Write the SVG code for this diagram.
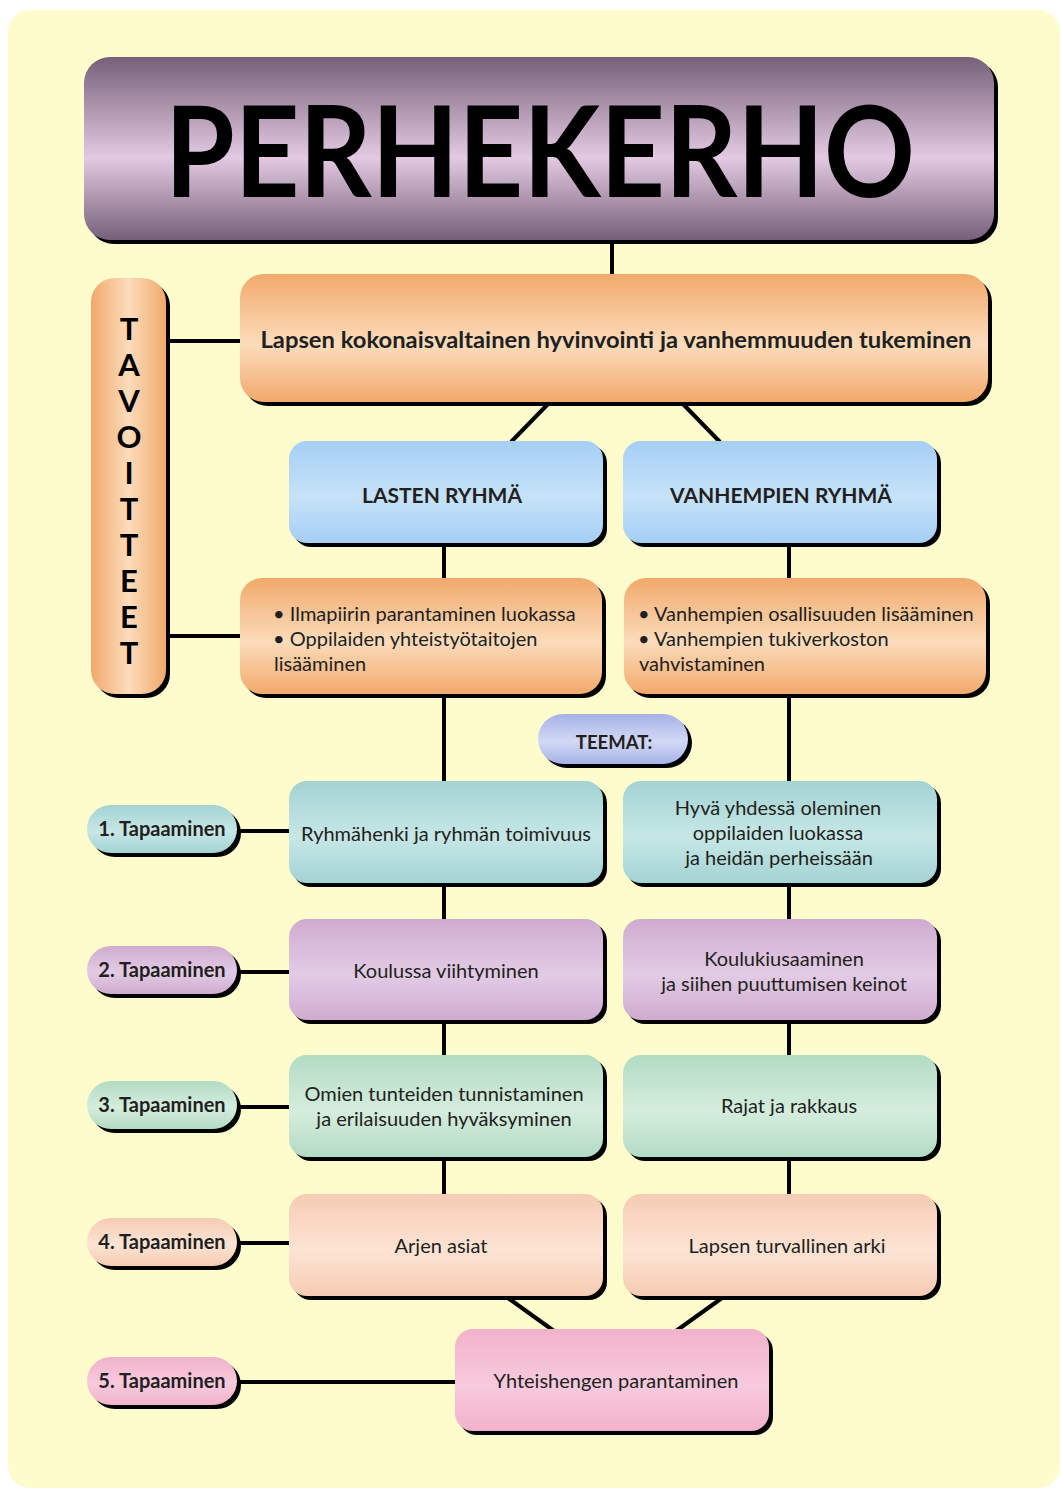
<svg xmlns="http://www.w3.org/2000/svg" width="1061" height="1490" viewBox="0 0 1061 1490">
<defs>
<linearGradient id="gPurple" x1="0" y1="0" x2="0" y2="1">
<stop offset="0" stop-color="#765f78"/><stop offset="0.55" stop-color="#e2cbe2"/><stop offset="1" stop-color="#765f78"/>
</linearGradient>
<linearGradient id="gOrange" x1="0" y1="0" x2="0" y2="1">
<stop offset="0" stop-color="#f1a96b"/><stop offset="0.55" stop-color="#fcdcbb"/><stop offset="1" stop-color="#f1a96b"/>
</linearGradient>
<linearGradient id="gOrangeH" x1="0" y1="0" x2="1" y2="0">
<stop offset="0" stop-color="#f1a96b"/><stop offset="0.5" stop-color="#fcdcbb"/><stop offset="1" stop-color="#f1a96b"/>
</linearGradient>
<linearGradient id="gBlue" x1="0" y1="0" x2="0" y2="1">
<stop offset="0" stop-color="#a5cff5"/><stop offset="0.55" stop-color="#c6e2f9"/><stop offset="1" stop-color="#a5cff5"/>
</linearGradient>
<linearGradient id="gLav" x1="0" y1="0" x2="0" y2="1">
<stop offset="0" stop-color="#a6b2e6"/><stop offset="0.55" stop-color="#d2d9f5"/><stop offset="1" stop-color="#a6b2e6"/>
</linearGradient>
<linearGradient id="gTeal" x1="0" y1="0" x2="0" y2="1">
<stop offset="0" stop-color="#a3d3d3"/><stop offset="0.55" stop-color="#c6e7e6"/><stop offset="1" stop-color="#a3d3d3"/>
</linearGradient>
<linearGradient id="gMauve" x1="0" y1="0" x2="0" y2="1">
<stop offset="0" stop-color="#cfaccf"/><stop offset="0.55" stop-color="#e2cbe5"/><stop offset="1" stop-color="#cfaccf"/>
</linearGradient>
<linearGradient id="gGreen" x1="0" y1="0" x2="0" y2="1">
<stop offset="0" stop-color="#b2dbc2"/><stop offset="0.55" stop-color="#d5edde"/><stop offset="1" stop-color="#b2dbc2"/>
</linearGradient>
<linearGradient id="gPeach" x1="0" y1="0" x2="0" y2="1">
<stop offset="0" stop-color="#f6cbb3"/><stop offset="0.55" stop-color="#fde4d4"/><stop offset="1" stop-color="#f6cbb3"/>
</linearGradient>
<linearGradient id="gPink" x1="0" y1="0" x2="0" y2="1">
<stop offset="0" stop-color="#f1b2ca"/><stop offset="0.55" stop-color="#f8cade"/><stop offset="1" stop-color="#f1b2ca"/>
</linearGradient>
</defs>
<style>
.sh{fill:#000;}
.t{font-family:Lato,"Open Sans","Liberation Sans",sans-serif;fill:#231f20;}
.b{font-weight:bold;}
.c{text-anchor:middle;}
.n{font-size:20px;}
.lbl{font-size:20px;font-weight:bold;}
.con line{stroke:#000;stroke-width:4;}
</style>
<rect x="8" y="10" width="1052" height="1478" rx="22" fill="#fefbcc"/>

<g class="con">
<line x1="612" y1="240" x2="612" y2="276"/>
<line x1="168" y1="341" x2="242" y2="341"/>
<line x1="168" y1="636" x2="242" y2="636"/>
<line x1="548" y1="404" x2="511" y2="442"/>
<line x1="683" y1="404" x2="720" y2="442"/>
<line x1="444" y1="545" x2="444" y2="580"/>
<line x1="789" y1="545" x2="789" y2="580"/>
<line x1="444" y1="696" x2="444" y2="783"/>
<line x1="789" y1="696" x2="789" y2="783"/>
<line x1="444" y1="885" x2="444" y2="921"/>
<line x1="789" y1="885" x2="789" y2="921"/>
<line x1="444" y1="1022" x2="444" y2="1057"/>
<line x1="789" y1="1022" x2="789" y2="1057"/>
<line x1="444" y1="1159" x2="444" y2="1196"/>
<line x1="789" y1="1159" x2="789" y2="1196"/>
<line x1="508" y1="1298" x2="554" y2="1331"/>
<line x1="722" y1="1298" x2="676" y2="1331"/>
<line x1="238" y1="831" x2="291" y2="831"/>
<line x1="238" y1="972" x2="291" y2="972"/>
<line x1="238" y1="1107" x2="291" y2="1107"/>
<line x1="238" y1="1243" x2="291" y2="1243"/>
<line x1="238" y1="1382" x2="457" y2="1382"/>
</g>

<g id="title">
<rect class="sh" x="88" y="61" width="910" height="183" rx="26"/>
<rect x="84" y="57" width="910" height="183" rx="26" fill="url(#gPurple)"/>
<text class="t b c" x="540" y="197" font-size="126" textLength="750" lengthAdjust="spacingAndGlyphs" style="fill:#000">PERHEKERHO</text>
</g>

<g id="tavoitteet">
<rect class="sh" x="95" y="282" width="75" height="416" rx="24"/>
<rect x="91" y="278" width="75" height="416" rx="24" fill="url(#gOrangeH)"/>
<g class="t b c" font-size="31" style="fill:#000">
<text x="129" y="340">T</text>
<text x="129" y="376">A</text>
<text x="129" y="412">V</text>
<text x="129" y="448">O</text>
<text x="129" y="484">I</text>
<text x="129" y="520">T</text>
<text x="129" y="556">T</text>
<text x="129" y="592">E</text>
<text x="129" y="628">E</text>
<text x="129" y="664">T</text>
</g>
</g>

<g id="goal">
<rect class="sh" x="244" y="278" width="748" height="128" rx="24"/>
<rect x="240" y="274" width="748" height="128" rx="24" fill="url(#gOrange)"/>
<text class="t b c" x="616" y="348" font-size="22" textLength="711" lengthAdjust="spacingAndGlyphs">Lapsen kokonaisvaltainen hyvinvointi ja vanhemmuuden tukeminen</text>
</g>

<g id="lasten">
<rect class="sh" x="293" y="445" width="314" height="102" rx="18"/>
<rect x="289" y="441" width="314" height="102" rx="18" fill="url(#gBlue)"/>
<text class="t b c" x="442" y="503" font-size="21">LASTEN RYHMÄ</text>
</g>

<g id="vanhempien">
<rect class="sh" x="627" y="445" width="314" height="102" rx="18"/>
<rect x="623" y="441" width="314" height="102" rx="18" fill="url(#gBlue)"/>
<text class="t b c" x="781" y="503" font-size="21">VANHEMPIEN RYHMÄ</text>
</g>

<g id="goal-lapset">
<rect class="sh" x="244" y="582" width="362" height="116" rx="22"/>
<rect x="240" y="578" width="362" height="116" rx="22" fill="url(#gOrange)"/>
<text class="t n" x="273" y="621">• Ilmapiirin parantaminen luokassa</text>
<text class="t n" x="273" y="646">• Oppilaiden yhteistyötaitojen</text>
<text class="t n" x="274" y="671">lisääminen</text>
</g>

<g id="goal-vanhemmat">
<rect class="sh" x="628" y="582" width="362" height="116" rx="22"/>
<rect x="624" y="578" width="362" height="116" rx="22" fill="url(#gOrange)"/>
<text class="t n" x="638" y="621">• Vanhempien osallisuuden lisääminen</text>
<text class="t n" x="638" y="646">• Vanhempien tukiverkoston</text>
<text class="t n" x="639" y="671">vahvistaminen</text>
</g>

<g id="teemat">
<rect class="sh" x="542" y="718" width="150" height="50" rx="25"/>
<rect x="538" y="714" width="150" height="50" rx="25" fill="url(#gLav)"/>
<text class="t b c" x="614" y="749" font-size="18.5">TEEMAT:</text>
</g>

<g id="t1">
<rect class="sh" x="91" y="809" width="150" height="48" rx="24"/>
<rect x="87" y="805" width="150" height="48" rx="24" fill="url(#gTeal)"/>
<text class="t lbl c" x="162" y="836">1. Tapaaminen</text>
</g>
<g id="r1l">
<rect class="sh" x="293" y="785" width="314" height="102" rx="18"/>
<rect x="289" y="781" width="314" height="102" rx="18" fill="url(#gTeal)"/>
<text class="t n c" x="446" y="841">Ryhmähenki ja ryhmän toimivuus</text>
</g>
<g id="r1r">
<rect class="sh" x="627" y="785" width="314" height="102" rx="18"/>
<rect x="623" y="781" width="314" height="102" rx="18" fill="url(#gTeal)"/>
<text class="t n c" x="778" y="815">Hyvä yhdessä oleminen</text>
<text class="t n c" x="778" y="840">oppilaiden luokassa</text>
<text class="t n c" x="779" y="865">ja heidän perheissään</text>
</g>

<g id="t2">
<rect class="sh" x="91" y="950" width="150" height="48" rx="24"/>
<rect x="87" y="946" width="150" height="48" rx="24" fill="url(#gMauve)"/>
<text class="t lbl c" x="162" y="977">2. Tapaaminen</text>
</g>
<g id="r2l">
<rect class="sh" x="293" y="923" width="314" height="101" rx="18"/>
<rect x="289" y="919" width="314" height="101" rx="18" fill="url(#gMauve)"/>
<text class="t n c" x="446" y="978">Koulussa viihtyminen</text>
</g>
<g id="r2r">
<rect class="sh" x="627" y="923" width="314" height="101" rx="18"/>
<rect x="623" y="919" width="314" height="101" rx="18" fill="url(#gMauve)"/>
<text class="t n c" x="784" y="966">Koulukiusaaminen</text>
<text class="t n c" x="784" y="991">ja siihen puuttumisen keinot</text>
</g>

<g id="t3">
<rect class="sh" x="91" y="1085" width="150" height="48" rx="24"/>
<rect x="87" y="1081" width="150" height="48" rx="24" fill="url(#gGreen)"/>
<text class="t lbl c" x="162" y="1112">3. Tapaaminen</text>
</g>
<g id="r3l">
<rect class="sh" x="293" y="1059" width="314" height="102" rx="18"/>
<rect x="289" y="1055" width="314" height="102" rx="18" fill="url(#gGreen)"/>
<text class="t n c" x="444" y="1101">Omien tunteiden tunnistaminen</text>
<text class="t n c" x="444" y="1126">ja erilaisuuden hyväksyminen</text>
</g>
<g id="r3r">
<rect class="sh" x="627" y="1059" width="314" height="102" rx="18"/>
<rect x="623" y="1055" width="314" height="102" rx="18" fill="url(#gGreen)"/>
<text class="t n c" x="789" y="1113">Rajat ja rakkaus</text>
</g>

<g id="t4">
<rect class="sh" x="91" y="1222" width="150" height="48" rx="24"/>
<rect x="87" y="1218" width="150" height="48" rx="24" fill="url(#gPeach)"/>
<text class="t lbl c" x="162" y="1249">4. Tapaaminen</text>
</g>
<g id="r4l">
<rect class="sh" x="293" y="1198" width="314" height="102" rx="18"/>
<rect x="289" y="1194" width="314" height="102" rx="18" fill="url(#gPeach)"/>
<text class="t n c" x="441" y="1253">Arjen asiat</text>
</g>
<g id="r4r">
<rect class="sh" x="627" y="1198" width="314" height="102" rx="18"/>
<rect x="623" y="1194" width="314" height="102" rx="18" fill="url(#gPeach)"/>
<text class="t n c" x="787" y="1253">Lapsen turvallinen arki</text>
</g>

<g id="t5">
<rect class="sh" x="91" y="1361" width="150" height="48" rx="24"/>
<rect x="87" y="1357" width="150" height="48" rx="24" fill="url(#gPink)"/>
<text class="t lbl c" x="162" y="1388">5. Tapaaminen</text>
</g>
<g id="r5">
<rect class="sh" x="459" y="1333" width="314" height="102" rx="18"/>
<rect x="455" y="1329" width="314" height="102" rx="18" fill="url(#gPink)"/>
<text class="t n c" x="616" y="1388">Yhteishengen parantaminen</text>
</g>
</svg>
